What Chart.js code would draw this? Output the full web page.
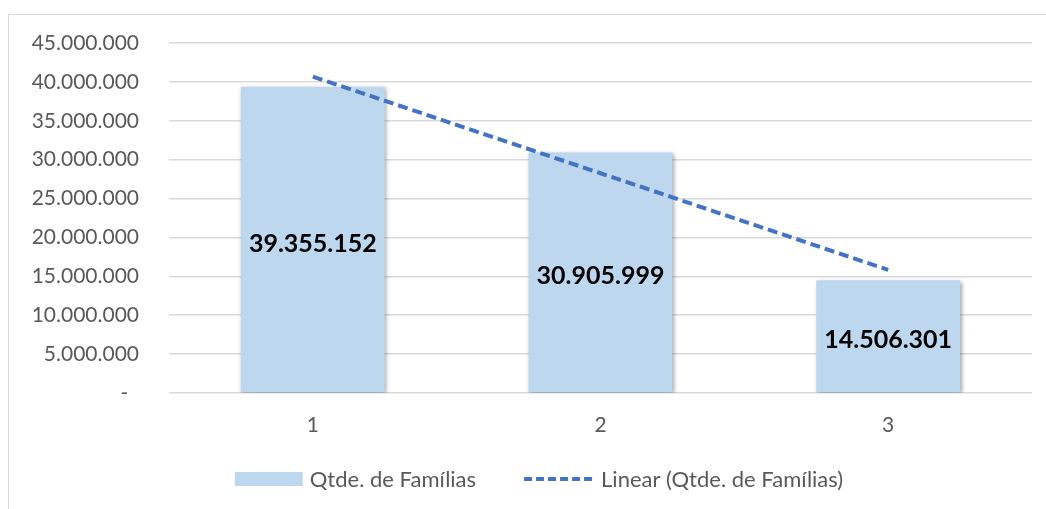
<!DOCTYPE html>
<html>
<head>
<meta charset="utf-8">
<script src="https://cdn.jsdelivr.net/npm/chart.js@4"></script>
<style>
  html, body { margin: 0; padding: 0; background: #fff; }
  #wrap { width: 1046px; height: 509px; }
</style>
</head>
<body>
<div id="wrap"><canvas id="chart" width="1046" height="509"></canvas></div>
<script>
// --- Data ---
const categories = ['1', '2', '3'];
const familias = [39355152, 30905999, 14506301];
const trendLinear = [40680000, 28256000, 15832000];   // tendência linear
const Y_MAX = 45000000;
const Y_STEP = 5000000;

const BAR_LABEL = 'Qtde. de Famílias';
const TREND_LABEL = 'Linear (Qtde. de Famílias)';

// --- Helpers ---
function formatBR(v) {
    return String(Math.round(v)).replace(/\B(?=(\d{3})+(?!\d))/g, '.');
}

const FONT = 'Lato, "Open Sans", sans-serif';
const GREY = '#595959';

// fundo + moldura do gráfico
const framePlugin = {
    id: 'frame',
    beforeDraw(chart) {
        const ctx = chart.ctx;
        ctx.save();
        ctx.fillStyle = '#fff';
        ctx.fillRect(0, 0, chart.width, chart.height);
        ctx.strokeStyle = '#d9d9d9';
        ctx.lineWidth = 1;
        ctx.strokeRect(8.5, 14.5, chart.width + 20, chart.height + 20);
        ctx.restore();
    }
};

// sombra suave nas barras
const shadowPlugin = {
    id: 'barShadow',
    beforeDatasetDraw(chart, args) {
        if (chart.data.datasets[args.index].type !== 'bar') return;
        const ctx = chart.ctx;
        ctx.save();
        ctx.shadowColor = 'rgba(0,0,0,0.35)';
        ctx.shadowBlur = 4;
        ctx.shadowOffsetX = 1.5;
        ctx.shadowOffsetY = 1.5;
    },
    afterDatasetDraw(chart, args) {
        if (chart.data.datasets[args.index].type !== 'bar') return;
        chart.ctx.restore();
    }
};

// rótulos de dados no centro das barras
const labelPlugin = {
    id: 'barLabels',
    afterDatasetsDraw(chart) {
        const ctx = chart.ctx;
        const meta = chart.getDatasetMeta(0);
        ctx.save();
        ctx.font = 'bold 25px ' + FONT;
        ctx.fillStyle = '#000';
        ctx.textAlign = 'center';
        ctx.textBaseline = 'middle';
        meta.data.forEach((bar, i) => {
            ctx.fillText(formatBR(familias[i]), bar.x, (bar.y + bar.base) / 2 + 4);
        });
        ctx.restore();
    }
};

// legenda desenhada à mão (caixa + linha tracejada)
const legendPlugin = {
    id: 'customLegend',
    afterDraw(chart) {
        const ctx = chart.ctx;
        const y = 479;
        const center = 539;
        ctx.save();
        ctx.font = '22px ' + FONT;
        const w1 = ctx.measureText(BAR_LABEL).width;
        const w2 = ctx.measureText(TREND_LABEL).width;
        const total = 68 + 7 + w1 + 48 + 70 + 7 + w2;
        let x = center - total / 2;

        ctx.fillStyle = '#bdd7ee';
        ctx.fillRect(x, y - 7, 68, 14);
        x += 75;
        ctx.fillStyle = GREY;
        ctx.textBaseline = 'middle';
        ctx.textAlign = 'left';
        ctx.fillText(BAR_LABEL, x, y + 1);
        x += w1 + 48;

        ctx.strokeStyle = '#4472c4';
        ctx.lineWidth = 4;
        ctx.setLineDash([8, 4]);
        ctx.beginPath();
        ctx.moveTo(x, y);
        ctx.lineTo(x + 70, y);
        ctx.stroke();
        ctx.setLineDash([]);
        x += 77;
        ctx.fillText(TREND_LABEL, x, y + 1);
        ctx.restore();
    }
};

new Chart(document.getElementById('chart'), {
    data: {
        labels: categories,
        datasets: [
            {
                type: 'bar',
                label: BAR_LABEL,
                data: familias,
                backgroundColor: '#bdd7ee',
                borderWidth: 0,
                barPercentage: 1,
                categoryPercentage: 0.5,
                order: 1
            },
            {
                type: 'line',
                label: TREND_LABEL,
                data: trendLinear,
                borderColor: '#4472c4',
                borderWidth: 4,
                borderDash: [10, 5],
                pointRadius: 0,
                fill: false,
                tension: 0,
                order: 0
            }
        ]
    },
    options: {
        responsive: false,
        animation: false,
        layout: { padding: { left: 0, right: 14, top: 43, bottom: 0 } },
        plugins: {
            legend: { display: false },
            tooltip: { enabled: false }
        },
        scales: {
            x: {
                grid: { display: false, drawTicks: false },
                border: { display: false },
                ticks: { color: GREY, font: { family: FONT, size: 21 }, padding: 20 },
                afterFit(scale) { scale.height = 116; }
            },
            y: {
                min: 0,
                max: Y_MAX,
                grid: { color: '#d9d9d9', lineWidth: 1.5, drawTicks: false },
                border: { display: false },
                ticks: {
                    stepSize: Y_STEP,
                    color: GREY,
                    font: { family: FONT, size: 21 },
                    padding: 30,
                    callback: v => v === 0 ? '-\u00a0\u00a0' : formatBR(v)
                },
                afterFit(scale) { scale.width = 169; }
            }
        }
    },
    plugins: [framePlugin, shadowPlugin, labelPlugin, legendPlugin]
});
</script>
</body>
</html>
